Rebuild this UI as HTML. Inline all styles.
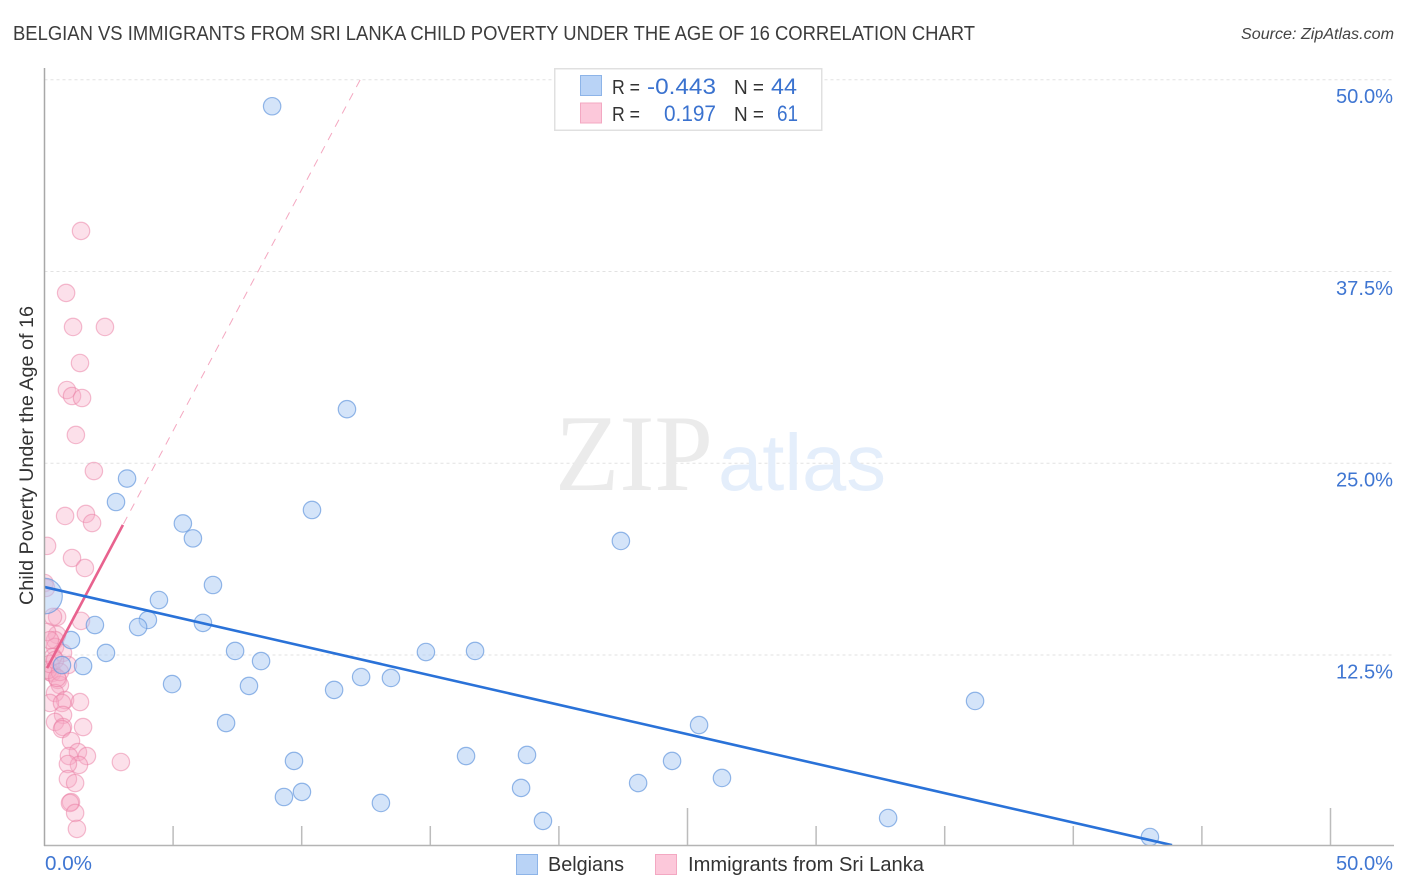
<!DOCTYPE html>
<html lang="en">
<head>
<meta charset="utf-8">
<title>Belgian vs Immigrants from Sri Lanka Child Poverty Correlation Chart</title>
<style>
html,body{margin:0;padding:0;background:#fff;width:1406px;height:892px;overflow:hidden}
svg{display:block;font-family:"Liberation Sans",sans-serif}
</style>
</head>
<body>
<svg id="chart" xmlns="http://www.w3.org/2000/svg" width="1406" height="892" viewBox="0 0 1406 892">
  <defs><clipPath id="plot-clip"><rect x="45" y="68" width="1349" height="777"/></clipPath></defs>
  <text x="13" y="40" font-size="20" fill="#3c3c3c" textLength="962" lengthAdjust="spacingAndGlyphs">BELGIAN VS IMMIGRANTS FROM SRI LANKA CHILD POVERTY UNDER THE AGE OF 16 CORRELATION CHART</text>
  <text x="1241" y="39" font-size="15.5" font-style="italic" fill="#444" textLength="153" lengthAdjust="spacingAndGlyphs">Source: ZipAtlas.com</text>

  <g id="grid"></g>

  <g>
    <text x="555" y="490" font-family="'Liberation Serif',serif" font-size="109" fill="#ebebeb" textLength="158" lengthAdjust="spacingAndGlyphs">ZIP</text>
    <text x="718" y="490" font-size="80" fill="#e4eefb" textLength="168" lengthAdjust="spacingAndGlyphs">atlas</text>
  </g>

  <g id="pink-points" clip-path="url(#plot-clip)"></g>
  <g id="blue-points" clip-path="url(#plot-clip)"></g>
  <g id="trends" clip-path="url(#plot-clip)"></g>

  <g id="axes"></g>
  <g id="labels"></g>

  <text transform="translate(33,605) rotate(-90)" font-size="19" fill="#333" textLength="299" lengthAdjust="spacingAndGlyphs">Child Poverty Under the Age of 16</text>

  <g>
    <rect x="554.75" y="68.75" width="267" height="61.5" fill="#fff" stroke="#e0e0e0" stroke-width="1.5"/>
    <rect x="580.5" y="75.5" width="21" height="20" fill="#b9d3f6" stroke="#8db4e8" stroke-width="1"/>
    <rect x="580.5" y="103" width="21" height="20" fill="#fcc8da" stroke="#f3a8c2" stroke-width="1"/>
    <text x="612" y="94" font-size="20" fill="#333" textLength="28" lengthAdjust="spacingAndGlyphs">R =</text>
    <text x="647" y="94" font-size="22" fill="#3a72cf" textLength="69" lengthAdjust="spacingAndGlyphs">-0.443</text>
    <text x="734" y="94" font-size="20" fill="#333" textLength="30" lengthAdjust="spacingAndGlyphs">N =</text>
    <text x="771" y="94" font-size="22" fill="#3a72cf" textLength="26" lengthAdjust="spacingAndGlyphs">44</text>
    <text x="612" y="121" font-size="20" fill="#333" textLength="28" lengthAdjust="spacingAndGlyphs">R =</text>
    <text x="664" y="121" font-size="22" fill="#3a72cf" textLength="52" lengthAdjust="spacingAndGlyphs">0.197</text>
    <text x="734" y="121" font-size="20" fill="#333" textLength="30" lengthAdjust="spacingAndGlyphs">N =</text>
    <text x="777" y="121" font-size="22" fill="#3a72cf" textLength="21" lengthAdjust="spacingAndGlyphs">61</text>
  </g>

  <g>
    <rect x="516.5" y="854.5" width="21" height="20" fill="#b9d3f6" stroke="#8db4e8" stroke-width="1"/>
    <text x="548" y="871" font-size="20" fill="#333" textLength="76" lengthAdjust="spacingAndGlyphs">Belgians</text>
    <rect x="655.5" y="854.5" width="21" height="20" fill="#fcc8da" stroke="#f3a8c2" stroke-width="1"/>
    <text x="688" y="871" font-size="20" fill="#333" textLength="236" lengthAdjust="spacingAndGlyphs">Immigrants from Sri Lanka</text>
  </g>
</svg>
<script>
var belgianX = [8.85,11.76,3.21,2.78,10.40,5.38,5.77,22.41,6.55,4.45,0.00,4.02,3.64,1.96,6.16,1.03,2.39,7.41,8.42,14.83,16.74,1.50,4.96,7.95,11.26,12.31,13.47,36.18,7.06,25.45,9.70,16.39,18.76,24.40,26.34,23.08,18.53,10.01,9.31,13.08,19.38,32.80,42.98,0.68];
var belgianY = [48.27,28.52,24.00,22.47,21.95,21.07,20.10,19.93,17.06,16.08,16.34,14.78,14.32,14.45,14.59,13.47,12.63,12.76,12.10,12.69,12.76,11.78,10.60,10.48,10.22,11.06,11.00,9.50,8.06,7.93,5.59,5.91,5.98,5.59,4.48,4.15,3.83,3.57,3.24,2.85,1.68,1.87,0.63,11.84];
var belgianWeight = [1,1,1,1,1,1,1,1,1,1,4.2,1,1,1,1,1,1,1,1,1,1,1,1,1,1,1,1,1,1,1,1,1,1,1,1,1,1,1,1,1,1,1,1,1];
var lankaX = [1.42,0.84,1.11,2.35,1.38,0.87,1.07,1.46,1.22,1.92,1.61,0.80,1.85,0.10,1.07,1.57,0.00,0.06,0.49,0.33,1.42,0.49,0.41,0.41,0.72,0.33,0.91,0.21,0.29,0.52,0.60,0.41,0.80,0.21,1.38,0.68,0.72,0.41,0.72,0.68,1.50,1.03,1.30,0.95,1.65,1.34,0.91,0.91,1.19,1.03,0.99,1.19,1.26,2.97,0.14,0.21,0.10,0.21,0.41,0.60,0.49];
var lankaY = [40.14,36.10,33.88,33.88,31.53,29.77,29.38,29.25,26.84,24.49,21.69,21.56,21.10,19.61,18.82,18.17,17.19,16.87,14.98,14.98,14.72,13.81,13.47,13.02,12.63,12.37,11.84,11.39,11.32,10.87,10.54,10.02,9.56,9.37,9.43,9.37,8.59,8.13,7.80,7.67,7.80,6.89,6.17,5.91,5.91,5.33,5.39,4.41,4.15,2.91,2.85,2.20,1.16,5.52,11.52,11.91,14.00,13.47,12.17,11.39,11.00];
var belgianTrendX = [0.00,43.84];
var belgianTrendY = [16.93,0.10];
var lankaTrendX = [0.10,3.05];
var lankaTrendY = [11.64,20.98];
var lankaExtendX = [3.05,12.27];
var lankaExtendY = [20.98,49.98];
var yTickValues = [12.5,25,37.5,50];
var yTickLabels = ["12.5%","25.0%","37.5%","50.0%"];
var xTickValues = [5,10,15,20,25,30,35,40,45,50];
var xTickMajor = [0,0,0,0,1,0,0,0,0,1];
var xEndLabels = ["0.0%","50.0%"];

var SVGNS = "http://www.w3.org/2000/svg";
function sx(v){ return 44.5 + v * 25.72; }
function sy(v){ return 846.7 - v * 15.34; }
function mk(tag, parent, attrs){
  var el = document.createElementNS(SVGNS, tag);
  for (var k in attrs) el.setAttribute(k, attrs[k]);
  document.getElementById(parent).appendChild(el);
  return el;
}

yTickValues.forEach(function(v, i){
  var g = mk("line", "grid", {x1:44.5, x2:1394, y1:sy(v), y2:sy(v), stroke:"#e2e2e2", "stroke-width":1, "stroke-dasharray":"3 3"});
  
  
  var t = mk("text", "labels", {x:1336, y:sy(v)+23.5, "font-size":20, fill:"#3f76d2", textLength:57, lengthAdjust:"spacingAndGlyphs"});
  t.textContent = yTickLabels[i];
  
  
});

var xa = mk("line", "axes", {x1:44, x2:1394, y1:845.5, y2:845.5, stroke:"#b4b4b4", "stroke-width":1.5});


var ya = mk("line", "axes", {x1:44.5, x2:44.5, y1:68, y2:846, stroke:"#a8a8a8", "stroke-width":1.5});


xTickValues.forEach(function(v, i){
  var tick = mk("line", "axes", {x1:sx(v), x2:sx(v), y1:xTickMajor[i] ? 808 : 826, y2:845, stroke:"#bcbcbc", "stroke-width":1.5});
  
  
});
var xl0 = mk("text", "labels", {x:45, y:870, "font-size":20, fill:"#3f76d2", textLength:47, lengthAdjust:"spacingAndGlyphs"});
xl0.textContent = xEndLabels[0];


var xl1 = mk("text", "labels", {x:1336, y:870, "font-size":20, fill:"#3f76d2", textLength:57, lengthAdjust:"spacingAndGlyphs"});
xl1.textContent = xEndLabels[1];



lankaX.forEach(function(v, i){
  var c = mk("circle", "pink-points", {cx:sx(v), cy:sy(lankaY[i]), r:8.7, fill:"#f8a9c4", "fill-opacity":0.36, stroke:"#ea7ba2", "stroke-opacity":0.5, "stroke-width":1.2});
  
  
});
belgianX.forEach(function(v, i){
  var c = mk("circle", "blue-points", {cx:sx(v), cy:sy(belgianY[i]), r:8.7 * Math.sqrt(belgianWeight[i]), fill:"#a9caf3", "fill-opacity":0.5, stroke:"#5c92dc", "stroke-opacity":0.65, "stroke-width":1.2});
  
  
});

var ext = mk("line", "trends", {x1:sx(lankaExtendX[1]), y1:sy(lankaExtendY[1]), x2:sx(lankaExtendX[0]), y2:sy(lankaExtendY[0]), stroke:"#ec6c96", "stroke-width":1, "stroke-dasharray":"8 7", "stroke-opacity":0.6});


var lt = mk("line", "trends", {x1:sx(lankaTrendX[0]), y1:sy(lankaTrendY[0]), x2:sx(lankaTrendX[1]), y2:sy(lankaTrendY[1]), stroke:"#e8628e", "stroke-width":2.6});


var bt = mk("line", "trends", {x1:sx(belgianTrendX[0]), y1:sy(belgianTrendY[0]), x2:sx(belgianTrendX[1]), y2:sy(belgianTrendY[1]), stroke:"#2a72d8", "stroke-width":2.6});


</script>
</body>
</html>
